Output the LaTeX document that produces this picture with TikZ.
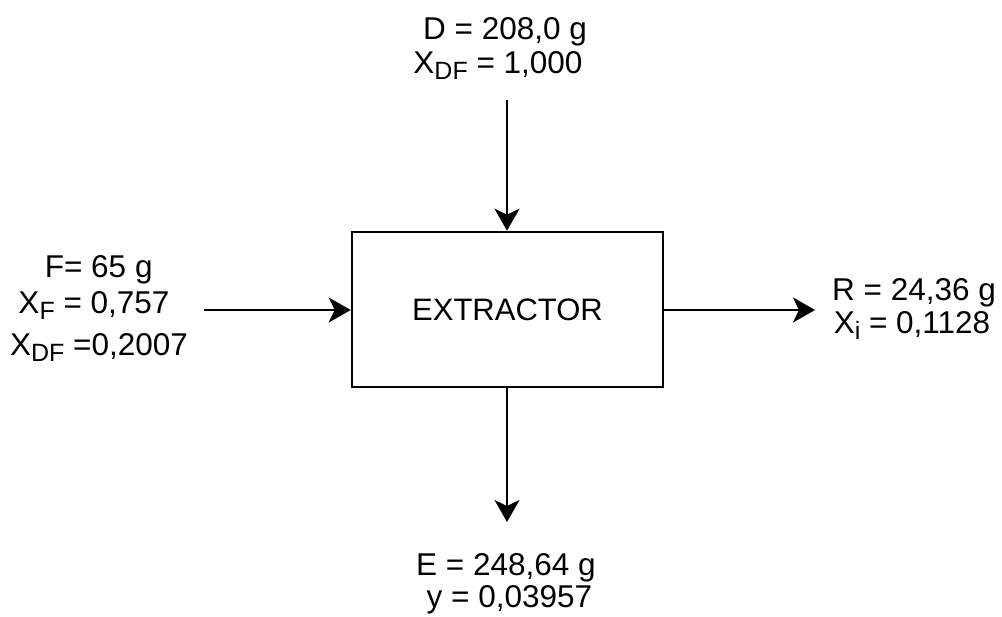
\documentclass[tikz,border=0pt]{standalone}
\usepackage{fontspec}
\setmainfont{Liberation Sans}
\usetikzlibrary{arrows.meta,positioning}
\newcommand{\lowidx}[1]{\raisebox{-6pt}{\fontsize{25pt}{25pt}\selectfont #1}}

\begin{document}
\begin{tikzpicture}[x=1pt,y=-1pt,
    flow/.style={-{Stealth[length=22pt,width=25pt,inset=6pt]},line width=2.4pt},
    val/.style={anchor=base,inner sep=0pt,font=\fontsize{31.5pt}{35pt}\selectfont}]
    \useasboundingbox (0,0) rectangle (1002,617);
    \node[draw,line width=2.6pt,minimum width=311pt,minimum height=155pt,
      font=\fontsize{31pt}{35pt}\selectfont] (extractor) at (507.5,309.5) {EXTRACTOR};
    % stream ends
    \coordinate (dSrc) at (507,100);
    \coordinate (fSrc) at (204,310);
    \coordinate (rEnd) at (815,310);
    \coordinate (eEnd) at (507,522);
    \draw[flow] (dSrc) -- (dSrc |- extractor.north);
    \draw[flow] (fSrc) -- (fSrc -| extractor.west);
    \draw[flow] (extractor.east |- rEnd) -- (rEnd);
    \draw[flow] (extractor.south -| eEnd) -- (eEnd);
    % stream values
    \node[val] (dMass) at (505,39.3) {D = 208,0 g};
    \node[val] (dFrac) at (498,73.3) {X\lowidx{DF} = 1,000};
    \node[val] (fMass) at (98.7,277.3) {F= 65 g};
    \node[val] (fFrac) at (94,314) {X\lowidx{F} = 0,757};
    \node[val] (fDF) at (99,356) {X\lowidx{DF} =0,2007};
    \node[val] (rMass) at (914,300.7) {R = 24,36 g};
    \node[val] (rFrac) at (912,334) {X\lowidx{i} = 0,1128};
    \node[val] (eMass) at (506,576) {E = 248,64 g};
    \node[val] (eFrac) at (509.5,607) {y = 0,03957};
\end{tikzpicture}
\end{document}
